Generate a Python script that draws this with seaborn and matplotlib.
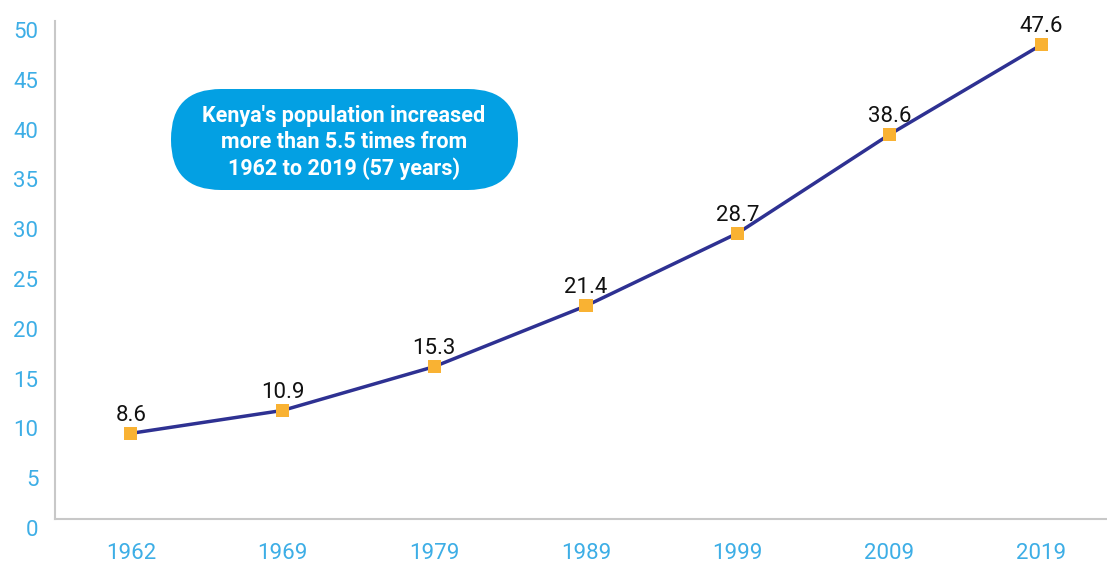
import matplotlib
matplotlib.use("Agg")
import matplotlib.pyplot as plt
import matplotlib.transforms as mtransforms
from matplotlib.patches import FancyBboxPatch
import seaborn as sns
import pandas as pd
import numpy as np

years = ["1962", "1969", "1979", "1989", "1999", "2009", "2019"]
population = [8.6, 10.9, 15.3, 21.4, 28.7, 38.6, 47.6]
y_ticks = [0, 5, 10, 15, 20, 25, 30, 35, 40, 45, 50]
note = "Kenya's population increased\nmore than 5.5 times from\n1962 to 2019 (57 years)"

sns.set_theme(style="white")
plt.rcParams['font.family'] = ['Roboto', 'DejaVu Sans']

df = pd.DataFrame({"pos": np.arange(len(years)), "year": years, "pop": population})

fig = plt.figure(figsize=(11.07, 5.64), dpi=100)
ax = fig.add_axes([55/1107, 45/564, 1 - 55/1107, (519-21)/564])

line_c = "#2E3192"
mark_c = "#F9B233"
tick_c = "#3DAEE6"
spine_c = "#C8C8C8"

sns.lineplot(data=df, x="pos", y="pop", ax=ax, color=line_c, linewidth=2.5, zorder=2)
sns.scatterplot(data=df, x="pos", y="pop", ax=ax, marker="s", color=mark_c, s=90,
                edgecolor="none", zorder=3)

for p, v in zip(df["pos"], df["pop"]):
    ax.annotate(f"{v}", (p, v), xytext=(0, 13), textcoords="offset points",
                ha="center", va="center", fontsize=16, color="#111111")

ax.set_xticks(df["pos"])
ax.set_xticklabels(years)
ax.set_xticks(np.arange(-0.5, 7, 1.0), minor=True)
ax.set_yticks(y_ticks)
ax.set_yticklabels([str(t) for t in y_ticks])
ax.set_xlim(-0.5, 6.5 - 10/151.67)
ax.set_ylim(0, 50)
ax.set_xlabel("")
ax.set_ylabel("")

ax.tick_params(axis="x", which="major", length=0, pad=17, labelsize=16, labelcolor=tick_c)
ax.tick_params(axis="x", which="minor", length=12, width=1.5, direction="in", color=spine_c)
ax.tick_params(axis="y", which="major", length=0, pad=12, labelsize=16, labelcolor=tick_c)

offset = mtransforms.ScaledTranslation(0, -9/100, fig.dpi_scale_trans)
for lab in ax.get_yticklabels():
    lab.set_transform(lab.get_transform() + offset)

for s in ["top", "right"]:
    ax.spines[s].set_visible(False)
for s in ["left", "bottom"]:
    ax.spines[s].set_color(spine_c)
    ax.spines[s].set_linewidth(1.5)
ax.grid(False)

# annotation pill
box = FancyBboxPatch((171, 564-190), 347, 101,
                     boxstyle="round,pad=0,rounding_size=50",
                     transform=mtransforms.IdentityTransform(),
                     facecolor="#03A0E3", edgecolor="none", zorder=5)
fig.patches.append(box)
fig.text(344/1107, 1 - 142.5/564, note, ha="center", va="center", color="white",
         fontsize=15.5, fontweight="bold", linespacing=1.25, zorder=6)

fig.savefig("out.png", dpi=100)
